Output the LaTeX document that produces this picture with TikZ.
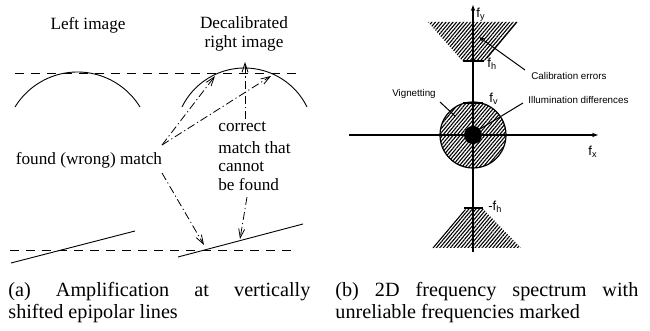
\documentclass[tikz,border=0pt]{standalone}
\usepackage{fontspec}
\setmainfont{Liberation Serif}
\newfontfamily\sff{Liberation Sans}
\usetikzlibrary{arrows.meta,patterns.meta}
\hbadness=10000
\begin{document}
\begin{tikzpicture}[x=0.5pt,y=-0.5pt,
  lbl/.style={font=\fontsize{8.6}{9.8}\selectfont, inner sep=0pt},
  captext/.style={font=\fontsize{10.1}{11}\selectfont, inner sep=0pt, text width=151pt, align=justify, anchor=base west},
  epi/.style={dash pattern=on 4.5pt off 3.5pt, line width=0.4pt},
  curve/.style={line width=0.45pt},
  dd/.style={dash pattern=on 4pt off 1.5pt on 0.6pt off 1.5pt, line width=0.4pt, -{Straight Barb[length=4.5pt,width=3pt]}},
  slbl/.style={font=\sff\fontsize{4.9}{5.5}\selectfont, inner sep=0pt},
  flbl/.style={font=\sff\fontsize{6.5}{7}\selectfont, inner sep=0pt, anchor=west},
  hatch/.style={pattern={Lines[angle=50,distance=1.35pt,line width=0.55pt]}},
  tickmark/.style={line width=1pt},
  axis/.style={line width=0.6pt, -{Stealth[length=3pt,width=2.2pt]}},
  leader/.style={line width=0.5pt}
]
\useasboundingbox (0,0) rectangle (650,331);

% ---------- (a) ----------
\node[lbl] (limg) at (88,25) {Left image};
\node[lbl, align=center] (rimg) at (244,34) {Decalibrated\\right image};

\coordinate (t1) at (15,73);
\coordinate (t2) at (302,73);
\coordinate (b1) at (10,250);
\coordinate (b2) at (298,250);
\draw[epi] (t1) -- (t2);
\draw[epi] (b1) -- (b2);

\draw[curve] plot[domain=31.5:148.5, samples=50, smooth] ({77.5+73.3*cos(\x)},{145.3-73.3*sin(\x)});
\draw[curve] plot[domain=26.1:153.9, samples=50, smooth] ({244.5+69.6*cos(\x)},{137.6-69.6*sin(\x)});

\coordinate (l1a) at (11,263);
\coordinate (l1b) at (135,231);
\coordinate (l2a) at (178,257);
\coordinate (l2b) at (303,224);
\draw[curve] (l1a) -- (l1b);
\draw[curve] (l2a) -- (l2b);

\node[lbl] (found) at (89,160) {found (wrong) match};
\node[lbl, anchor=base west] (c1) at (218,132) {correct};
\node[lbl, anchor=base west] (c2) at (218,154) {match that};
\node[lbl, anchor=base west] (c3) at (218,172) {cannot};
\node[lbl, anchor=base west] (c4) at (218,191) {be found};

\coordinate (fa) at (162,145);
\coordinate (fb) at (162,173);
\coordinate (p1) at (215,76);
\coordinate (p2) at (271,76);
\coordinate (p4) at (204,245);
\coordinate (cs) at (245,119);
\coordinate (p3) at (245,62);
\coordinate (bs) at (247,197);
\coordinate (p5) at (240,239);
\draw[dd] (fa) -- (p1);
\draw[dd] (fa) -- (p2);
\draw[dd] (fb) -- (p4);
\draw[dd] (cs) -- (p3);
\draw[dd] (bs) -- (p5);

\node[captext] (capa) at (8,297) {(a) Amplification at vertically\linebreak shifted epipolar lines};

% ---------- (b) ----------
\fill[hatch] (428,22) -- (517,22) -- (488,57) .. controls (485,61) .. (480,61) -- (467,61) .. controls (462,61) .. (458,56) -- cycle;
\coordinate (te1) at (517,22);
\coordinate (te2) at (487,58);
\draw[leader] (te1) -- (te2);

\fill[hatch] (433,248) -- (464,211) .. controls (466,208) .. (469,208) -- (479,208) .. controls (483,208) .. (486,212) -- (521,248) -- cycle;
\coordinate (be1) at (433,248);
\coordinate (be2) at (465,210);
\draw[leader] (be1) -- (be2);

\node[circle, draw, line width=0.6pt, hatch, minimum size=33pt, inner sep=0pt] (vig) at (473,135) {};

\coordinate (xl) at (349,135);
\coordinate (xr) at (598,135);
\coordinate (yb) at (473,252);
\coordinate (yt) at (473,5);
\draw[axis] (xl) -- (xr);
\draw[axis] (yb) -- (yt);

\node[circle, fill=black, minimum size=9pt, inner sep=0pt] (dot) at (473,135) {};

\coordinate (k1a) at (463,61);  \coordinate (k1b) at (484,61);
\coordinate (k2a) at (463,103); \coordinate (k2b) at (483,103);
\coordinate (k3a) at (464,208); \coordinate (k3b) at (483,208);
\draw[tickmark] (k1a) -- (k1b);
\draw[tickmark] (k2a) -- (k2b);
\draw[tickmark] (k3a) -- (k3b);

\node[flbl] (fy) at (476,15) {f\textsubscript{y}};
\node[flbl] (fh) at (487,64) {f\textsubscript{h}};
\node[flbl] (fv) at (489,99) {f\textsubscript{v}};
\node[flbl] (mfh) at (488,207) {-f\textsubscript{h}};
\node[flbl] (fx) at (588,152) {f\textsubscript{x}};

\node[slbl, anchor=west] (cal) at (531,76) {Calibration errors};
\node[slbl, anchor=west] (ill) at (528,100) {Illumination differences};
\node[slbl] (vigl) at (414,94) {Vignetting};

\coordinate (va) at (440,102); \coordinate (vb) at (455,116);
\coordinate (ca) at (525,70);  \coordinate (cb) at (479,37);
\coordinate (ia) at (523,103); \coordinate (ib) at (480,129);
\draw[leader] (va) -- (vb);
\draw[leader, -{Stealth[length=3pt,width=2.2pt]}] (ca) -- (cb);
\draw[leader] (ia) -- (ib);

\node[captext, text width=151.5pt] (capb) at (335,297) {(b) 2D frequency spectrum with\linebreak unreliable frequencies marked};
\end{tikzpicture}
\end{document}
